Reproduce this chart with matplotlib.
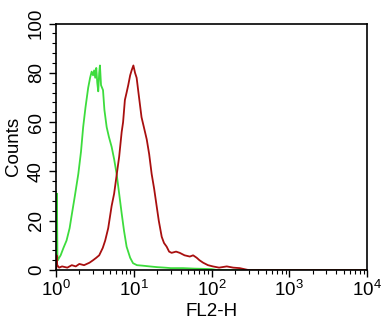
import matplotlib
matplotlib.use("Agg")
import matplotlib.pyplot as plt
from matplotlib.ticker import FixedLocator, LogLocator, MultipleLocator, NullFormatter

plt.rcParams["font.family"] = ["Liberation Sans", "DejaVu Sans"]
plt.rcParams["mathtext.fontset"] = "custom"
plt.rcParams["mathtext.rm"] = "Liberation Sans"
plt.rcParams["mathtext.it"] = "Liberation Sans"

# isotype control (green)
ctrl_x = [1.00, 1.025, 1.03, 1.045, 1.06, 1.10, 1.15, 1.25, 1.37, 1.5, 1.59, 1.75, 1.94, 2.1, 2.24,
          2.4, 2.6, 2.75, 2.88, 3.0, 3.1, 3.2, 3.3, 3.4, 3.5, 3.6, 3.68, 3.8, 4.03, 4.2,
          4.49, 4.8, 5.2, 5.6, 6.03, 6.5, 7.0, 7.5, 8.1, 9.0, 9.8, 11, 13, 16, 20, 25, 30,
          43, 60, 80, 100, 120, 10000]
ctrl_y = [3, 5, 31, 6, 4, 5, 6, 9, 12, 17, 22, 30, 39, 48, 58,
          66, 74, 78, 80.5, 79, 81, 78, 82, 76, 72.5, 80, 83, 75, 73, 65,
          58, 54, 50, 45, 39, 31, 23, 16, 9.5, 5, 2.8, 2, 1.8, 1.5, 1.2, 1.0, 0.8,
          0.8, 0.6, 0.5, 0.4, 0, 0]

# stained sample (dark red)
stain_x = [1.0, 1.015, 1.02, 1.04, 1.1, 1.2, 1.4, 1.6, 1.8, 2.0, 2.3, 2.7, 3.0, 3.3, 3.6, 4.0, 4.3,
           4.7, 5.2, 5.6, 6.0, 6.5, 7.0, 7.3, 7.7, 8.1, 8.5, 9.0, 9.4, 9.9, 10.4, 10.9,
           11.5, 12.6, 13.5, 14.7, 15.8, 17, 18.3, 19.7, 21, 22.9, 24.5, 26.5, 28.5, 30.7,
           35, 39, 45, 52.6, 58, 64.5, 70, 78, 90, 104, 125, 157, 190, 230, 300, 10000]
stain_y = [0, 1, 6, 2, 1, 1.5, 1, 2, 1.5, 2.5, 2, 3, 4, 5, 6, 9, 12,
           17, 26, 31, 38, 46, 56, 60, 69, 72, 75, 79, 81, 83, 80, 78,
           72, 62, 58, 53, 47, 39, 33, 26, 20, 13.5, 11, 9.5, 7.5, 7,
           7.5, 7, 6, 5.5, 6, 5, 4, 3, 2, 1.5, 1, 1.5, 1, 0.8, 0, 0]

x_ticks = [1, 10, 100, 1000, 10000]
x_ticklabels = [r"$\mathregular{10^{0}}$", r"$\mathregular{10^{1}}$", r"$\mathregular{10^{2}}$",
                r"$\mathregular{10^{3}}$", r"$\mathregular{10^{4}}$"]
y_ticks = [0, 20, 40, 60, 80, 100]

fig = plt.figure(figsize=(3.91, 3.27), dpi=100)
ax = fig.add_axes([0.143, 0.174, 0.796, 0.754])
ax.plot(ctrl_x, ctrl_y, color="#3ddc3d", lw=1.3)
ax.plot(stain_x, stain_y, color="#a80f0f", lw=1.3)

ax.set_xscale("log")
ax.set_xlim(1, 10000)
ax.set_ylim(0, 100)
ax.xaxis.set_major_locator(FixedLocator(x_ticks))
ax.set_xticklabels(x_ticklabels)
ax.xaxis.set_minor_locator(LogLocator(base=10, subs=range(2, 10)))
ax.xaxis.set_minor_formatter(NullFormatter())
ax.yaxis.set_major_locator(FixedLocator(y_ticks))
ax.yaxis.set_minor_locator(MultipleLocator(4))
for lab in ax.get_yticklabels():
    lab.set_rotation(90)
    lab.set_va("center")

ax.tick_params(which="major", length=5, width=1, labelsize=13.5, direction="out")
ax.tick_params(which="minor", length=3, width=0.8, direction="out")
ax.tick_params(axis="x", pad=2)
ax.tick_params(axis="y", pad=3)
for s in ax.spines.values():
    s.set_linewidth(1.2)

ax.set_xlabel("FL2-H", fontsize=13.5, labelpad=2)
ax.set_ylabel("Counts", fontsize=13.5, labelpad=4)

fig.savefig("out.png", dpi=100)
